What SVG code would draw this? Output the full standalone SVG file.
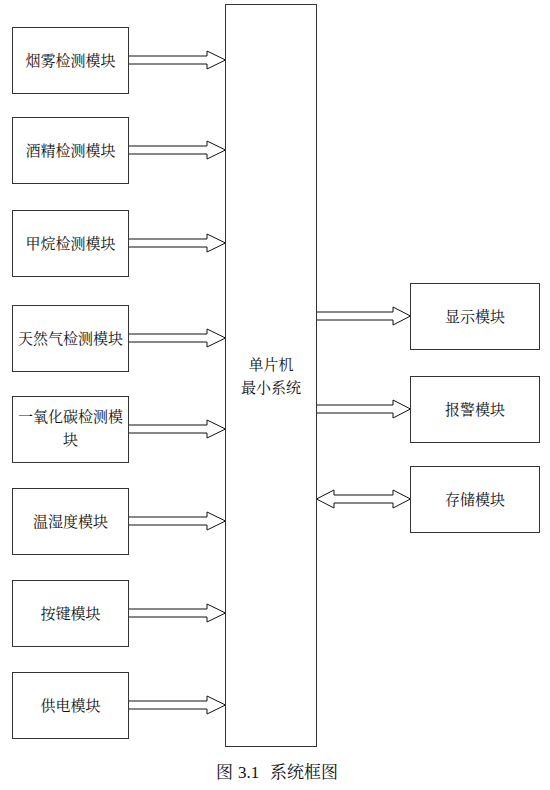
<svg xmlns="http://www.w3.org/2000/svg" width="550" height="790" viewBox="0 0 550 790">
<style>
.box{fill:#fff;stroke:#333;stroke-width:1}
.t{font-family:"Noto Serif CJK SC","Noto Sans CJK SC",serif;font-size:15px;fill:#111;text-anchor:middle}
.cap{font-family:"Liberation Serif","Noto Serif CJK SC","Noto Sans CJK SC",serif;font-size:17px;fill:#111}
.arr{fill:#fff;stroke:#111;stroke-width:1;stroke-linejoin:miter}
</style>
<rect width="550" height="790" fill="#fff"/>
<g id="connectors">
<path class="arr" d="M128.5,56 H207 V51 L225.5,60 L207,69 V64 H128.5 Z"/>
<path class="arr" d="M128.5,146 H207 V141 L225.5,150 L207,159 V154 H128.5 Z"/>
<path class="arr" d="M128.5,239 H207 V234 L225.5,243 L207,252 V247 H128.5 Z"/>
<path class="arr" d="M128.5,334 H207 V329 L225.5,338 L207,347 V342 H128.5 Z"/>
<path class="arr" d="M128.5,425 H207 V420 L225.5,429 L207,438 V433 H128.5 Z"/>
<path class="arr" d="M128.5,517 H207 V512 L225.5,521 L207,530 V525 H128.5 Z"/>
<path class="arr" d="M128.5,609 H207 V604 L225.5,613 L207,622 V617 H128.5 Z"/>
<path class="arr" d="M128.5,701 H207 V696 L225.5,705 L207,714 V709 H128.5 Z"/>
<path class="arr" d="M316.5,312 H393 V307 L410.5,316 L393,325 V320 H316.5 Z"/>
<path class="arr" d="M316.5,405 H393 V400 L410.5,409 L393,418 V413 H316.5 Z"/>
<path class="arr" d="M316.5,499 L334,490 V495 H393 V490 L410.5,499 L393,508 V503 H334 V508 Z"/>
</g>
<g id="mcu">
<rect class="box" x="225.5" y="4.5" width="91" height="742"/>
<text class="t" x="271" y="370">单片机</text>
<text class="t" x="271" y="393">最小系统</text>
</g>
<g id="smoke"><rect class="box" x="12.5" y="27.5" width="116" height="66"/><text class="t" x="70.5" y="65.5">烟雾检测模块</text></g>
<g id="alcohol"><rect class="box" x="12.5" y="117.5" width="116" height="66"/><text class="t" x="70.5" y="155.5">酒精检测模块</text></g>
<g id="methane"><rect class="box" x="12.5" y="210.5" width="116" height="66"/><text class="t" x="70.5" y="248.5">甲烷检测模块</text></g>
<g id="gas"><rect class="box" x="12.5" y="305.5" width="116" height="66"/><text class="t" x="70.5" y="343.5">天然气检测模块</text></g>
<g id="co"><rect class="box" x="12.5" y="396.5" width="116" height="66"/><text class="t" x="70.5" y="422">一氧化碳检测模</text><text class="t" x="70.5" y="445">块</text></g>
<g id="temp"><rect class="box" x="12.5" y="488.5" width="116" height="66"/><text class="t" x="70.5" y="526.5">温湿度模块</text></g>
<g id="key"><rect class="box" x="12.5" y="580.5" width="116" height="66"/><text class="t" x="70.5" y="618.5">按键模块</text></g>
<g id="power"><rect class="box" x="12.5" y="672.5" width="116" height="66"/><text class="t" x="70.5" y="710.5">供电模块</text></g>
<g id="display"><rect class="box" x="410.5" y="283.5" width="129" height="66"/><text class="t" x="475" y="321.5">显示模块</text></g>
<g id="alarm"><rect class="box" x="410.5" y="376.5" width="129" height="66"/><text class="t" x="475" y="414.5">报警模块</text></g>
<g id="storage"><rect class="box" x="410.5" y="466.5" width="129" height="66"/><text class="t" x="475" y="504.5">存储模块</text></g>
<text class="cap" y="778"><tspan x="216">图</tspan><tspan x="238">3.1</tspan><tspan x="270">系统框图</tspan></text>
</svg>
